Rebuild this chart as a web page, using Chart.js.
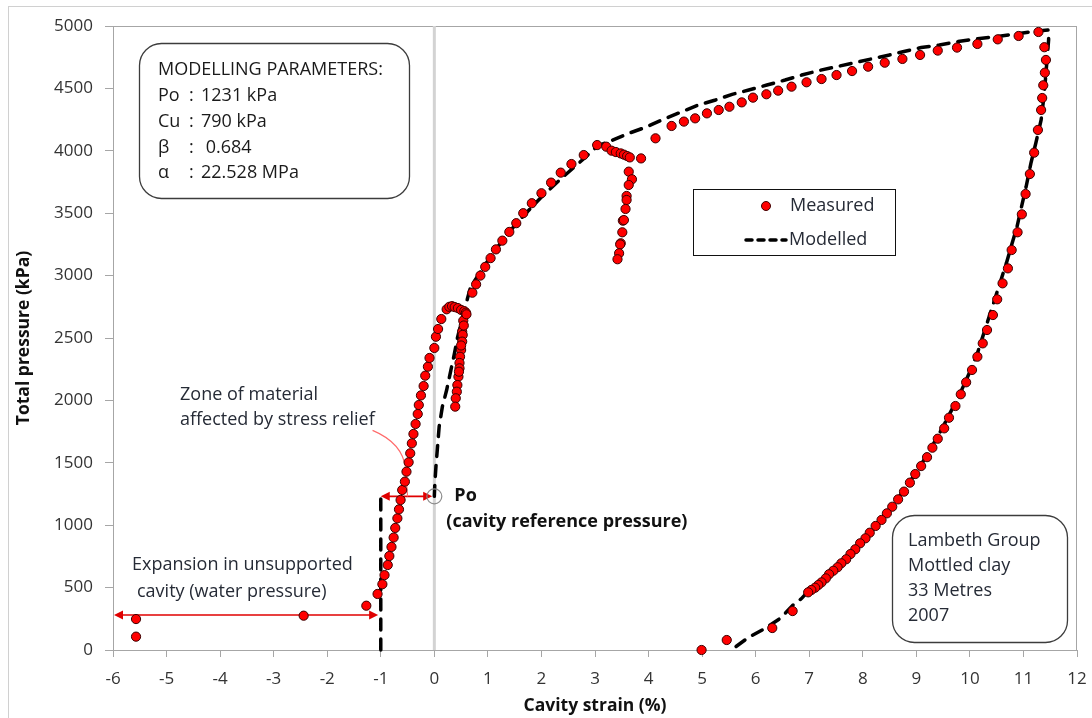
<!DOCTYPE html>
<html>
<head>
<meta charset="utf-8">
<script src="https://cdn.jsdelivr.net/npm/chart.js@4.4.1/dist/chart.umd.min.js"></script>
<style>
  html, body { margin: 0; padding: 0; background: #fff; }
  #wrap { position: relative; width: 1092px; height: 718px; }
</style>
</head>
<body>
<div id="wrap"><canvas id="pmtChart"></canvas></div>
<script>
// Pressuremeter test, Lambeth Group mottled clay at 33 m (2007).
// Cavity strain in %, total pressure in kPa.
const measuredStrain = [
  -5.57,-5.57,-2.44,-1.27,-1.06,-0.97,-0.93,-0.87,-0.84,-0.80,-0.76,-0.73,
  -0.69,-0.66,-0.63,-0.60,-0.55,-0.52,-0.48,-0.45,-0.42,-0.39,-0.35,-0.31,
  -0.29,-0.25,-0.20,-0.17,-0.12,-0.09,0.00,0.03,0.07,0.13,0.23,0.28,0.33,
  0.38,0.44,0.50,0.56,
  0.59,0.54,0.52,0.53,0.52,0.50,0.48,0.47,0.47,0.45,0.43,0.42,0.40,0.39,
  0.46,0.50,0.55,0.60,
  0.71,0.78,0.86,0.95,1.05,1.15,1.27,1.40,1.53,1.66,1.82,2.00,2.18,2.36,
  2.56,2.79,3.04,3.21,3.31,3.39,3.48,3.54,3.60,3.65,3.86,
  3.63,3.69,3.63,3.59,3.59,3.57,3.52,3.54,3.51,3.48,3.47,3.45,3.42,
  4.13,4.43,4.66,4.87,5.09,5.31,5.51,5.74,5.95,6.20,6.42,6.67,6.95,7.23,
  7.51,7.80,8.10,8.41,8.74,9.07,9.40,9.76,10.14,10.52,10.91,11.28,
  11.39,11.42,11.40,11.37,11.35,11.33,11.27,11.20,11.12,11.04,10.97,10.89,
  10.78,10.71,10.61,10.51,10.43,10.32,10.24,10.14,10.04,9.93,9.83,9.73,
  9.61,9.52,9.40,9.30,9.20,9.09,8.98,8.88,8.77,8.66,8.55,8.45,8.35,8.24,
  8.13,8.05,7.95,7.86,7.77,7.69,7.60,7.53,7.45,7.37,7.31,7.23,7.17,7.11,
  7.04,6.98,6.69,6.31,5.46,4.99
];
const measuredPressure = [
  107,248,275,355,449,527,600,681,753,826,901,978,
  1055,1127,1202,1282,1349,1429,1504,1576,1656,1731,1811,1891,
  1963,2040,2115,2198,2270,2340,2420,2510,2572,2652,2730,2750,2755,
  2748,2740,2725,2715,
  2703,2639,2551,2525,2471,2404,2350,2300,2257,2190,2123,2070,2017,1950,
  2230,2440,2600,2690,
  2863,2930,3000,3070,3140,3210,3280,3350,3420,3500,3580,3660,3745,3825,
  3894,3966,4046,4033,4001,3990,3979,3969,3958,3947,3939,
  3833,3772,3726,3638,3606,3534,3440,3445,3347,3259,3250,3179,3131,
  4100,4199,4234,4260,4300,4327,4353,4388,4426,4453,4482,4514,4549,4575,
  4607,4639,4674,4706,4736,4768,4803,4827,4856,4893,4920,4952,
  4830,4728,4626,4525,4423,4327,4167,3985,3814,3654,3491,3347,
  3205,3058,2938,2810,2684,2564,2457,2350,2244,2145,2049,1955,
  1861,1776,1693,1621,1545,1474,1410,1341,1269,1207,1148,1095,1042,994,
  940,895,855,807,769,727,695,663,635,607,574,542,521,499,
  481,462,312,176,80,0
];

// Model: water-filled cavity up to Po, then the loading / unloading curve
const modelStrain = [
  -1,-1,null,
  0,0.01,0.03,0.06,0.09,0.15,0.23,0.31,0.37,0.43,0.50,0.56,0.62,0.68,0.80,
  1.00,1.30,1.60,2.00,2.40,2.80,3.05,3.26,3.63,3.94,4.25,4.62,4.93,5.25,
  5.56,5.87,6.21,6.55,6.86,7.17,7.51,7.85,8.16,8.50,8.75,9.09,9.43,9.78,
  10.12,10.49,10.86,11.27,11.47,
  11.47,11.44,11.39,11.33,11.23,11.14,11.05,10.95,10.88,10.77,10.68,10.57,
  10.46,10.35,10.24,10.14,10.00,9.80,9.50,9.20,8.90,8.60,8.30,8.00,7.50,
  7.00,6.86,6.70,6.46,6.18,5.87,5.59,5.55
];
const modelPressure = [
  0,1231,null,
  1231,1338,1469,1629,1789,1950,2083,2244,2364,2498,2618,2724,2818,2911,2990,
  3120,3300,3450,3630,3790,3940,4040,4073,4140,4188,4247,4313,4367,4407,
  4452,4487,4527,4567,4607,4642,4674,4706,4736,4768,4794,4827,4848,4875,
  4896,4915,4936,4960,4968,
  4888,4728,4461,4247,4060,3902,3712,3526,3392,3232,3098,2951,
  2804,2658,2511,2377,2230,2040,1790,1560,1360,1180,1020,870,660,
  480,414,361,254,174,102,14,0
];

const xTicks = [-6,-5,-4,-3,-2,-1,0,1,2,3,4,5,6,7,8,9,10,11,12];
const yTicks = [0,500,1000,1500,2000,2500,3000,3500,4000,4500,5000];

const po = 1231;           // cavity reference pressure, kPa
const waterPressure = 280; // level of the unsupported-expansion arrow

const paramLines = [
  ['MODELLING PARAMETERS:', '', ''],
  ['Po', ':', '1231 kPa'],
  ['Cu', ':', '790 kPa'],
  ['β', ':', ' 0.684'],
  ['α', ':', '22.528 MPa']
];
const siteLines = ['Lambeth Group', 'Mottled clay', '33 Metres', '2007'];

const measured = measuredStrain.map((x, i) => ({ x, y: measuredPressure[i] }));
const modelled = modelStrain.map((x, i) => ({ x, y: modelPressure[i] }));

const FONT = '"Open Sans", Lato, sans-serif';
const TEXT = '#262b36';
const AXIS = '#a6a6a6';
const DASH = [11, 9];

function roundBox(ctx, x, y, w, h, r) {
  ctx.beginPath();
  ctx.moveTo(x + r, y);
  ctx.arcTo(x + w, y, x + w, y + h, r);
  ctx.arcTo(x + w, y + h, x, y + h, r);
  ctx.arcTo(x, y + h, x, y, r);
  ctx.arcTo(x, y, x + w, y, r);
  ctx.closePath();
  ctx.fillStyle = '#fff';
  ctx.fill();
  ctx.stroke();
}

function arrow(ctx, x1, x2, y) {
  const hl = 9, hw = 4.5;
  ctx.strokeStyle = '#e00000';
  ctx.fillStyle = '#e00000';
  ctx.lineWidth = 1.6;
  ctx.beginPath();
  ctx.moveTo(x1 + hl - 2, y);
  ctx.lineTo(x2 - hl + 2, y);
  ctx.stroke();
  ctx.beginPath();
  ctx.moveTo(x1, y); ctx.lineTo(x1 + hl, y - hw); ctx.lineTo(x1 + hl, y + hw);
  ctx.closePath(); ctx.fill();
  ctx.beginPath();
  ctx.moveTo(x2, y); ctx.lineTo(x2 - hl, y - hw); ctx.lineTo(x2 - hl, y + hw);
  ctx.closePath(); ctx.fill();
}

// keep the plot box fixed: axes take a set size, no extra label padding
function fixX(s) { s.height = 68; s.paddingLeft = 0; s.paddingRight = 0; }
function fixY(s) { s.width = 105; s.paddingTop = 0; s.paddingBottom = 0; }

const notes = {
  id: 'notes',
  beforeDraw(chart) {
    const ctx = chart.ctx;
    ctx.save();
    ctx.fillStyle = '#fff';
    ctx.fillRect(0, 0, chart.width, chart.height);
    ctx.strokeStyle = '#d0d0d0';
    ctx.lineWidth = 1;
    ctx.strokeRect(8.5, 6.5, chart.width + 20, chart.height + 20);
    ctx.restore();
  },
  beforeDatasetsDraw(chart) {
    const { ctx, chartArea: a, scales: { x, y } } = chart;
    ctx.save();
    ctx.strokeStyle = AXIS;
    ctx.lineWidth = 1;
    ctx.strokeRect(a.left + 0.5, a.top + 0.5, a.right - a.left - 1, a.bottom - a.top);

    // unsupported expansion, from the edge of the axis to the -1 % line
    arrow(ctx, x.getPixelForValue(-6) + 1, x.getPixelForValue(-1.05), y.getPixelForValue(waterPressure));
    // zone affected by stress relief, between -1 % and Po
    const py = y.getPixelForValue(po);
    arrow(ctx, x.getPixelForValue(-1), x.getPixelForValue(-0.04), py);

    // leader from the note down to the arrow
    const lx = x.getPixelForValue(-0.5);
    ctx.strokeStyle = '#ff6a6a';
    ctx.lineWidth = 1.1;
    ctx.beginPath();
    ctx.moveTo(lx - 35, py - 66);
    ctx.bezierCurveTo(lx - 16, py - 58, lx - 4, py - 46, lx - 2, py - 28);
    ctx.lineTo(lx, py);
    ctx.stroke();
    ctx.restore();
  },
  afterDatasetsDraw(chart) {
    const { ctx, scales: { x, y } } = chart;
    ctx.save();

    // Po marker
    const cx = x.getPixelForValue(0), cy = y.getPixelForValue(po);
    ctx.strokeStyle = '#8c8c8c';
    ctx.lineWidth = 1.2;
    ctx.beginPath();
    ctx.arc(cx, cy, 7.5, 0, Math.PI * 2);
    ctx.stroke();

    ctx.textBaseline = 'middle';
    ctx.textAlign = 'left';
    ctx.fillStyle = '#111';
    ctx.font = 'bold 18px ' + FONT;
    ctx.fillText('Po', cx + 20, cy);
    ctx.fillText('(cavity reference pressure)', cx + 12, cy + 26);

    ctx.fillStyle = TEXT;
    ctx.font = '18px ' + FONT;
    ctx.fillText('Zone of material', 180, 395);
    ctx.fillText('affected by stress relief', 180, 420);
    ctx.fillText('Expansion in unsupported', 132, 565);
    ctx.fillText('cavity (water pressure)', 137, 592);

    // modelling parameters
    ctx.strokeStyle = '#3c3c3c';
    ctx.lineWidth = 1.3;
    roundBox(ctx, 139.5, 43.5, 270, 155, 22);
    ctx.fillStyle = '#1a1a1a';
    ctx.font = '18px ' + FONT;
    paramLines.forEach((l, i) => {
      const ty = 70 + i * 25.8;
      ctx.fillText(l[0], 158, ty);
      ctx.fillText(l[1], 189, ty);
      ctx.fillText(l[2], 201, ty);
    });

    // site details
    roundBox(ctx, 892.5, 515.5, 175, 127, 22);
    ctx.fillStyle = TEXT;
    siteLines.forEach((s, i) => ctx.fillText(s, 908, 541 + i * 25));

    // legend
    ctx.strokeStyle = '#111';
    ctx.lineWidth = 1;
    ctx.fillStyle = '#fff';
    ctx.fillRect(693.5, 189.5, 202, 66);
    ctx.strokeRect(693.5, 189.5, 202, 66);
    ctx.beginPath();
    ctx.arc(766, 206, 4.5, 0, Math.PI * 2);
    ctx.fillStyle = '#ff0000';
    ctx.fill();
    ctx.strokeStyle = '#400000';
    ctx.stroke();
    ctx.strokeStyle = '#000';
    ctx.lineWidth = 3.5;
    ctx.lineCap = 'round';
    ctx.setLineDash([6, 6]);
    ctx.beginPath();
    ctx.moveTo(746, 240);
    ctx.lineTo(786, 240);
    ctx.stroke();
    ctx.setLineDash([]);
    ctx.fillStyle = TEXT;
    ctx.fillText('Measured', 790, 206);
    ctx.fillText('Modelled', 789, 240);
    ctx.restore();
  }
};

function draw() {
  Chart.defaults.font.family = FONT;
  new Chart(document.getElementById('pmtChart'), {
    type: 'scatter',
    data: {
      datasets: [
        {
          label: 'Measured',
          data: measured,
          backgroundColor: '#ff0000',
          borderColor: '#3a0000',
          borderWidth: 1,
          pointRadius: 4.6,
          showLine: false,
          clip: false
        },
        {
          label: 'Modelled',
          data: modelled,
          showLine: true,
          spanGaps: false,
          borderColor: '#000',
          borderWidth: 3.5,
          borderDash: DASH,
          borderCapStyle: 'round',
          pointRadius: 0,
          tension: 0,
          clip: false
        },
        {
          label: 'zero strain',
          data: [{ x: 0, y: 0 }, { x: 0, y: 5000 }],
          showLine: true,
          borderColor: '#d3d3d3',
          borderWidth: 3,
          pointRadius: 0
        }
      ]
    },
    options: {
      responsive: true,
      maintainAspectRatio: false,
      animation: false,
      events: [],
      layout: { padding: { left: 8, right: 15, top: 26, bottom: 0 } },
      plugins: { legend: { display: false }, tooltip: { enabled: false } },
      scales: {
        x: {
          type: 'linear',
          min: -6, max: 12,
          afterBuildTicks: s => { s.ticks = xTicks.map(v => ({ value: v })); },
          afterFit: fixX,
          grid: { drawOnChartArea: false, drawTicks: true, tickLength: 7, color: AXIS },
          border: { color: AXIS },
          ticks: { color: '#333', font: { size: 17 }, padding: 12, callback: v => String(v) },
          title: { display: true, text: 'Cavity strain (%)', color: '#111',
                   font: { size: 17.5, weight: 'bold' }, padding: { top: 0, bottom: 1 } }
        },
        y: {
          type: 'linear',
          min: 0, max: 5000,
          afterBuildTicks: s => { s.ticks = yTicks.map(v => ({ value: v })); },
          afterFit: fixY,
          grid: { drawOnChartArea: false, drawTicks: true, tickLength: 8, color: AXIS },
          border: { color: AXIS },
          ticks: { color: '#333', font: { size: 17 }, padding: 12, callback: v => String(v) },
          title: { display: true, text: 'Total pressure (kPa)', color: '#111',
                   font: { size: 17.5, weight: 'bold' }, padding: { top: 6, bottom: 0 } }
        }
      }
    },
    plugins: [notes]
  });
}

document.fonts.load('17px "Open Sans"').then(draw, draw);
</script>
</body>
</html>
